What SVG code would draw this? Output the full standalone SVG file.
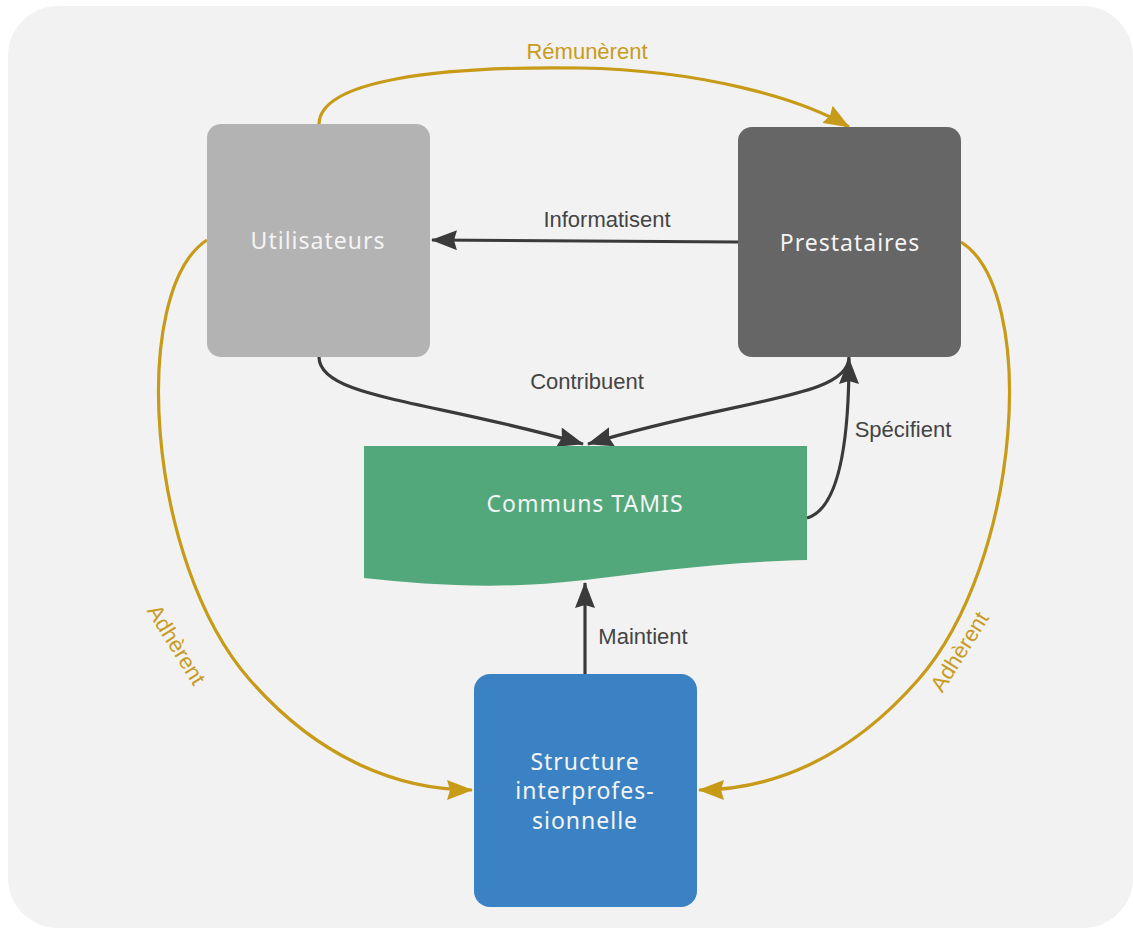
<svg xmlns="http://www.w3.org/2000/svg" width="1133" height="928" viewBox="0 0 1133 928">
<style>
.bg{fill:#f2f2f2}
.node-text{font-family:"Noto Sans","Open Sans",sans-serif;font-size:23px;fill:#f4f4f4;text-anchor:middle;letter-spacing:1px}
.lbl{font-family:"Liberation Sans",Arial,sans-serif;font-size:22px;text-anchor:middle}
.dark{fill:#444444}
.gold{fill:#c89b22}
.cd{fill:none;stroke:#3a3a3a;stroke-width:3.2}
.cg{fill:none;stroke:#c79a17;stroke-width:3.2}
</style>
<defs>
<marker id="ad" markerWidth="26" markerHeight="20" viewBox="0 0 26 20" refX="25" refY="10" orient="auto" markerUnits="userSpaceOnUse">
<path d="M0,0 L26,10 L0,20 L3,10 Z" fill="#3a3a3a"/>
</marker>
<marker id="ag" markerWidth="26" markerHeight="20" viewBox="0 0 26 20" refX="25" refY="10" orient="auto" markerUnits="userSpaceOnUse">
<path d="M0,0 L26,10 L0,20 L3,10 Z" fill="#c79a17"/>
</marker>
</defs>
<rect width="1133" height="928" fill="#ffffff"/>
<rect class="bg" x="8" y="6" width="1125" height="922" rx="50"/>

<g id="connectors">
<path class="cg" d="M319,124 C320,80 440,66 580,68 C700,70 800,98 849,127" marker-end="url(#ag)"/>
<path class="cd" d="M738,242 L432,240" marker-end="url(#ad)"/>
<path class="cd" d="M319,357 C319,398 430,400 583,444" marker-end="url(#ad)"/>
<path class="cd" d="M849,357 C849,398 740,398 588,444" marker-end="url(#ad)"/>
<path class="cd" d="M807,518 C842,508 849,430 849,359" marker-end="url(#ad)"/>
<path class="cd" d="M585,674 L585,583" marker-end="url(#ad)"/>
<path class="cg" d="M207,240 C130,290 145,560 250,680 C320,760 400,790 472,790" marker-end="url(#ag)"/>
<path class="cg" d="M961,242 C1038,290 1023,560 918,680 C848,760 770,790 699,790" marker-end="url(#ag)"/>
<text class="lbl gold" x="587" y="59">Rémunèrent</text>
<text class="lbl dark" x="607" y="227">Informatisent</text>
<text class="lbl dark" x="587" y="389">Contribuent</text>
<text class="lbl dark" x="903" y="437">Spécifient</text>
<text class="lbl dark" x="643" y="644">Maintient</text>
<text class="lbl gold" transform="translate(176,645) rotate(58)" y="7">Adhèrent</text>
<text class="lbl gold" transform="translate(960,652) rotate(-58)" y="7">Adhèrent</text>
</g>

<g id="utilisateurs">
<rect x="207" y="124" width="223" height="233" rx="14" fill="#b3b3b3"/>
<text class="node-text" x="318" y="249">Utilisateurs</text>
</g>
<g id="prestataires">
<rect x="738" y="127" width="223" height="230" rx="14" fill="#666666"/>
<text class="node-text" x="850" y="251">Prestataires</text>
</g>
<g id="communs">
<path d="M364,446 L807,446 L807,560 C720,562 650,572 585,580 C500,590 430,585 364,578 Z" fill="#52a87b"/>
<text class="node-text" x="585" y="512">Communs TAMIS</text>
</g>
<g id="structure">
<rect x="474" y="674" width="223" height="233" rx="16" fill="#3b82c5"/>
<text class="node-text" x="585" y="770">Structure</text>
<text class="node-text" x="585" y="799">interprofes-</text>
<text class="node-text" x="585" y="829">sionnelle</text>
</g>
</svg>
